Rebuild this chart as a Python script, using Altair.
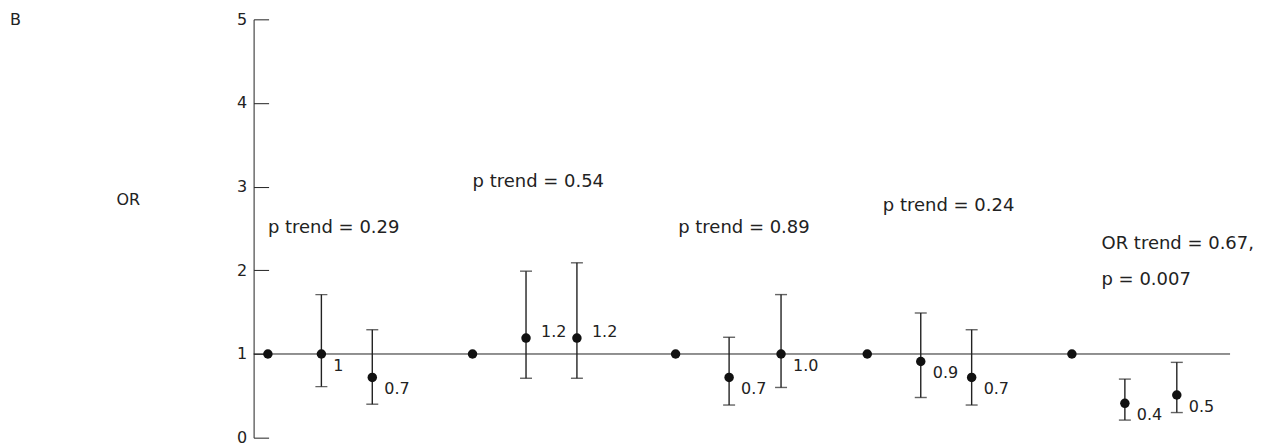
import altair as alt
import pandas as pd

# ---- data ----
pos = [0, 1.03, 2.01, 3.94, 4.97, 5.95, 7.85, 8.88, 9.88, 11.54, 12.57, 13.55, 15.48, 16.50, 17.50]
est = [1, 1.0, 0.72, 1, 1.19, 1.19, 1, 0.72, 1.0, 1, 0.91, 0.72, 1, 0.41, 0.51]
lo = [None, 0.61, 0.40, None, 0.71, 0.71, None, 0.39, 0.60, None, 0.48, 0.39, None, 0.21, 0.30]
hi = [None, 1.71, 1.29, None, 1.99, 2.09, None, 1.20, 1.71, None, 1.49, 1.29, None, 0.70, 0.90]
labels = ["", "1", "0.7", "", "1.2", "1.2", "", "0.7", "1.0", "", "0.9", "0.7", "", "0.4", "0.5"]

ann_text = ["p trend = 0.29", "p trend = 0.54", "p trend = 0.89", "p trend = 0.24",
            "OR trend = 0.67,", "p = 0.007"]
ann_x = [0.0, 3.94, 7.90, 11.84, 16.05, 16.05]
ann_y = [2.51, 3.06, 2.50, 2.77, 2.32, 1.89]

y_ticks = [0, 1, 2, 3, 4, 5]

FONT = "DejaVu Sans"
INK = "#222222"
W, H = 978, 419

df = pd.DataFrame({"pos": pos, "est": est, "lo": lo, "hi": hi, "label": labels})
ann = pd.DataFrame({"x": ann_x, "y": ann_y, "text": ann_text})

xs = alt.Scale(domain=[-0.275, 18.525], nice=False, zero=False)
ys = alt.Scale(domain=[0, 5], nice=False)

base = alt.Chart(df)

yaxis_main = alt.Axis(values=y_ticks, ticks=False, tickSize=0, labelPadding=7, grid=False,
                      domainColor=INK, labelColor=INK, labelFont=FONT, labelFontSize=16,
                      title="OR", titleAngle=0, titleFont=FONT, titleFontSize=16,
                      titleFontWeight="normal", titleColor=INK, titleX=-126, titleY=180,
                      titleAlign="center", titleBaseline="middle")
yaxis_ticks = alt.Axis(values=y_ticks, orient="right", offset=-W, domain=False, labels=False,
                       ticks=True, tickSize=15, tickColor=INK, grid=False, title=None)


def X(field):
    return alt.X(field, scale=xs, axis=None)


def Y(field):
    return alt.Y(field, scale=ys, axis=None)


refline = alt.Chart(pd.DataFrame({"v": [1]})).mark_rule(color=INK, strokeWidth=1).encode(
    y=alt.Y("v:Q", scale=ys, axis=yaxis_main)
)

tick_layer = alt.Chart(pd.DataFrame({"v": [1]})).mark_point(opacity=0).encode(
    y=alt.Y("v:Q", scale=ys, axis=yaxis_ticks)
)

with_ci = base.transform_filter("datum.lo != null")

ci = with_ci.mark_rule(color=INK, strokeWidth=1.4).encode(
    x=X("pos:Q"), y=Y("lo:Q"), y2="hi:Q"
)
cap_lo = with_ci.mark_tick(orient="horizontal", size=12, thickness=1.4, color=INK).encode(
    x=X("pos:Q"), y=Y("lo:Q")
)
cap_hi = with_ci.mark_tick(orient="horizontal", size=12, thickness=1.4, color=INK).encode(
    x=X("pos:Q"), y=Y("hi:Q")
)

pts = base.mark_circle(size=90, color="#111111", opacity=1).encode(
    x=X("pos:Q"), y=Y("est:Q")
)

lab_below = base.transform_filter("datum.est <= 1.05").mark_text(
    align="left", baseline="middle", dx=12, dy=12, font=FONT, fontSize=16, color=INK
).encode(x=X("pos:Q"), y=Y("est:Q"), text="label:N")
lab_above = base.transform_filter("datum.est > 1.05").mark_text(
    align="left", baseline="middle", dx=15, dy=-6, font=FONT, fontSize=16, color=INK
).encode(x=X("pos:Q"), y=Y("est:Q"), text="label:N")

annot = alt.Chart(ann).mark_text(
    align="left", baseline="middle", font=FONT, fontSize=18, color=INK
).encode(x=X("x:Q"), y=Y("y:Q"), text="text:N")

panel = alt.Chart(pd.DataFrame({"t": ["B"]})).mark_text(
    align="left", baseline="middle", font=FONT, fontSize=16, color=INK
).encode(x=alt.value(-244), y=alt.value(1), text="t:N")

chart = alt.layer(refline, tick_layer, ci, cap_lo, cap_hi, pts, lab_below, lab_above, annot, panel).resolve_axis(
    y="independent"
).properties(
    width=W, height=H,
    autosize=alt.AutoSizeParams(type="none"),
    padding={"left": 246, "top": 11, "right": 30, "bottom": 6},
).configure_view(stroke=None).configure_axis(domainWidth=1, tickWidth=1)

chart.save("out.html", embed_options={"renderer": "svg", "actions": False})
